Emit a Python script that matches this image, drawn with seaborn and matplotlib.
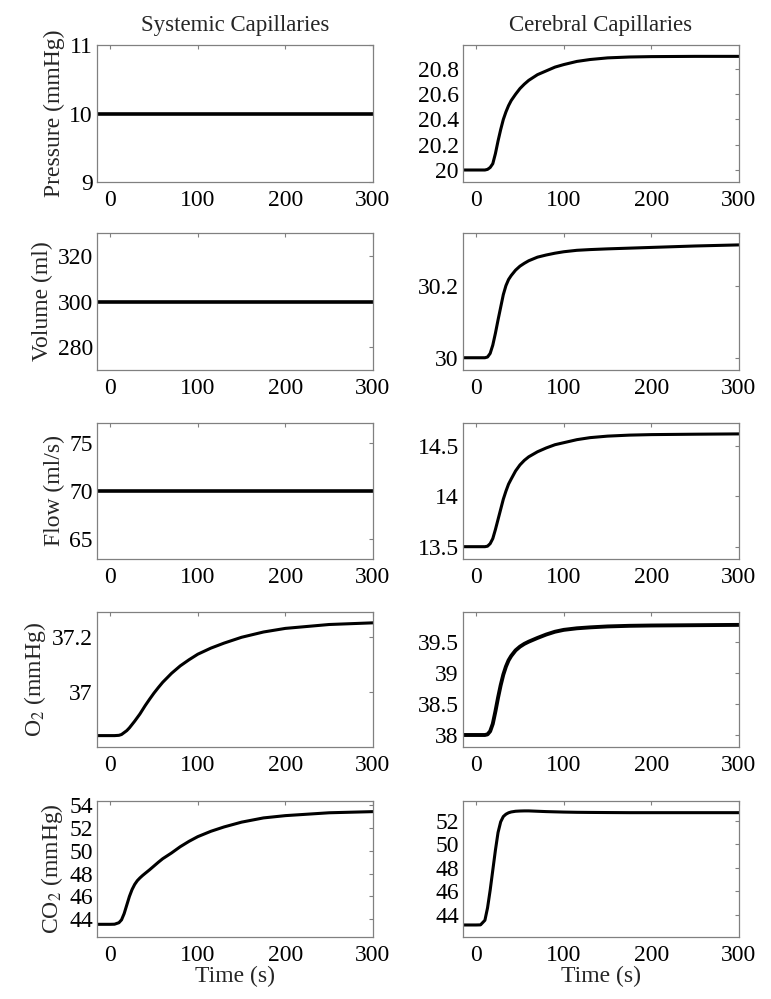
import numpy as np
import pandas as pd
import seaborn as sns
import matplotlib.pyplot as plt
from matplotlib.ticker import FixedLocator, FormatStrFormatter

# time axis (s)
t_flat = [-15, 300]
t_curve = [-15, 0, 5, 10, 13, 16, 19, 22, 25, 28, 31, 34, 37, 40, 45, 50, 55, 60,
           70, 80, 90, 100, 115, 130, 150, 175, 200, 250, 300]

# systemic capillaries (constant)
sys_pressure = [10, 10]
sys_volume = [300, 300]
sys_flow = [70, 70]

# systemic O2 / CO2
sys_o2 = [36.844, 36.844, 36.844, 36.845, 36.848, 36.855, 36.862, 36.872, 36.884,
          36.896, 36.909, 36.922, 36.937, 36.952, 36.975, 36.997, 37.017, 37.036,
          37.068, 37.095, 37.117, 37.137, 37.159, 37.177, 37.198, 37.217, 37.23,
          37.244, 37.25]
sys_co2 = [43.56, 43.56, 43.57, 43.7, 43.95, 44.5, 45.25, 46.0, 46.6, 47.05, 47.38,
           47.62, 47.83, 48.02, 48.33, 48.66, 48.99, 49.3, 49.8, 50.35, 50.82, 51.23,
           51.7, 52.08, 52.5, 52.87, 53.07, 53.32, 53.42]

# cerebral capillaries
cer_pressure = [20.0, 20.0, 20.0, 20.0, 20.005, 20.02, 20.05, 20.13, 20.23, 20.32,
                20.4, 20.46, 20.51, 20.55, 20.6, 20.645, 20.68, 20.71, 20.755, 20.785,
                20.815, 20.835, 20.86, 20.875, 20.888, 20.895, 20.898, 20.9, 20.9]
cer_volume = [30.0, 30.0, 30.0, 30.0, 30.002, 30.012, 30.035, 30.068, 30.105, 30.14,
              30.175, 30.2, 30.217, 30.228, 30.243, 30.254, 30.262, 30.269, 30.279,
              30.285, 30.29, 30.294, 30.298, 30.3, 30.302, 30.304, 30.306, 30.31,
              30.313]
cer_flow = [13.5, 13.5, 13.5, 13.5, 13.505, 13.53, 13.58, 13.67, 13.77, 13.87, 13.97,
            14.05, 14.12, 14.17, 14.25, 14.31, 14.355, 14.39, 14.44, 14.478, 14.51,
            14.53, 14.56, 14.58, 14.595, 14.605, 14.61, 14.614, 14.617]
cer_o2 = [38.0, 38.0, 38.0, 38.0, 38.01, 38.06, 38.18, 38.38, 38.6, 38.8, 38.97, 39.1,
          39.2, 39.27, 39.36, 39.42, 39.465, 39.5, 39.56, 39.615, 39.66, 39.69, 39.715,
          39.73, 39.745, 39.755, 39.76, 39.765, 39.77]
cer_co2 = [43.15, 43.15, 43.16, 43.55, 44.6, 46.1, 47.8, 49.5, 51.0, 51.9, 52.35,
           52.55, 52.67, 52.74, 52.8, 52.82, 52.83, 52.83, 52.8, 52.77, 52.75, 52.73,
           52.71, 52.7, 52.69, 52.68, 52.68, 52.68, 52.68]

ylabels = ["Pressure (mmHg)", "Volume (ml)", "Flow (ml/s)",
           "O$_2$ (mmHg)", "CO$_2$ (mmHg)"]
col_titles = ["Systemic Capillaries", "Cerebral Capillaries"]

panels = [
    [(t_flat, sys_pressure, (9, 11), [9, 10, 11]),
     (t_curve, cer_pressure, (19.905, 20.99), [20, 20.2, 20.4, 20.6, 20.8])],
    [(t_flat, sys_volume, (270, 330), [280, 300, 320]),
     (t_curve, cer_volume, (29.966, 30.346), [30, 30.2])],
    [(t_flat, sys_flow, (62.9, 77.1), [65, 70, 75]),
     (t_curve, cer_flow, (13.378, 14.725), [13.5, 14, 14.5])],
    [(t_curve, sys_o2, (36.803, 37.289), [37, 37.2]),
     (t_curve, cer_o2, (37.807, 39.977), [38, 38.5, 39, 39.5])],
    [(t_curve, sys_co2, (42.45, 54.35), [44, 46, 48, 50, 52, 54]),
     (t_curve, cer_co2, (42.13, 53.67), [44, 46, 48, 50, 52])],
]

sns.set_style("white")
plt.rcParams['font.family'] = ['Liberation Serif', 'DejaVu Serif']
plt.rcParams['mathtext.fontset'] = 'stix'

fig = plt.figure(figsize=(7.71, 9.99), dpi=100)

col_x = [97 / 771, 463 / 771]
col_w = 276 / 771
rows_px = [(45, 182), (233, 370), (423, 559), (612, 747), (801, 937)]

for r, row in enumerate(panels):
    top, bot = rows_px[r]
    for c, (t, y, ylim, yticks) in enumerate(row):
        ax = fig.add_axes([col_x[c], 1 - bot / 999, col_w, (bot - top) / 999])
        df = pd.DataFrame({"t": t, "v": y})
        lw = 2.6 if (c == 0 and r < 3) else 2.2
        if c == 1 and r == 3:
            lw = 2.8
        sns.lineplot(data=df, x="t", y="v", ax=ax, color="black", linewidth=lw)
        ax.set_xlim(-15, 300)
        ax.set_ylim(*ylim)
        ax.xaxis.set_major_locator(FixedLocator([0, 100, 200, 300]))
        ax.yaxis.set_major_locator(FixedLocator(yticks))
        ax.yaxis.set_major_formatter(FormatStrFormatter('%g'))
        ax.tick_params(direction='in', length=3, width=0.8, top=True, right=True,
                       labelsize=17, colors='#808080', labelcolor='black')
        ax.tick_params(axis='x', pad=6)
        ax.tick_params(axis='y', pad=3)
        for s in ax.spines.values():
            s.set_color('#808080')
            s.set_linewidth(0.9)
        ax.set_ylabel(ylabels[r] if c == 0 else "", fontsize=17, labelpad=3)
        if r == 4:
            ax.set_xlabel("Time (s)", fontsize=17, labelpad=0)
        else:
            ax.set_xlabel("")
        if r == 0:
            ax.set_title(col_titles[c], fontsize=16.5, pad=10)

fig.savefig("out.png", dpi=100)
